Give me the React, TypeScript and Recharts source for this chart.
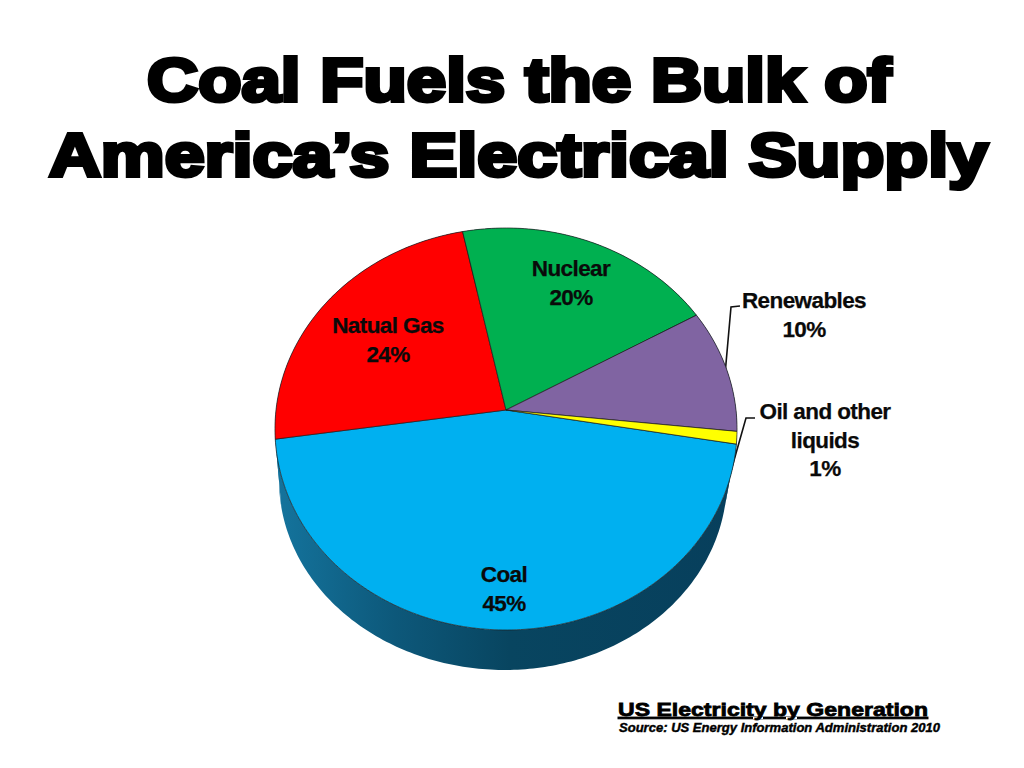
import React from 'react';
import { PieChart, Pie, Cell } from 'recharts';

const CATEGORIES = ['Coal', 'Natual Gas', 'Nuclear', 'Renewables', 'Oil and other liquids'];
const PERCENTS = [45, 24, 20, 10, 1];
const TOP_COLORS = ['#00B0F0', '#FF0000', '#00B050', '#8064A2', '#FFFF00'];

const LABEL_LINES = [['Coal'], ['Natual Gas'], ['Nuclear'], ['Renewables'], ['Oil and other', 'liquids']];
const LABEL_SPOTS = [
  { x: 504, y: 582 },
  { x: 388, y: 333 },
  { x: 571, y: 276 },
  { x: 804, y: 308 },
  { x: 825, y: 419 },
];

const chartData = CATEGORIES.map((name, i) => ({ name, value: PERCENTS[i] }));

// the pie is tilted, so the centre of the slices is not the centre of the ellipse
const VX = 506;
const VY = 410;
const RX = 230;
const RY = 199.2;
const TILT = -0.0945;
const START = -9.7;

const rad = (a: number) => (a * Math.PI) / 180;

const topPoint = (a: number) => {
  const x = Math.cos(rad(a));
  const y = -Math.sin(rad(a));
  const d = 1 + TILT * y;
  return [VX + (RX * x) / d, VY + (RY * y) / d];
};

const lowPoint = (a: number) => {
  const x = Math.cos(rad(a));
  const y = -Math.sin(rad(a));
  return [505 + (x > 0 ? 222 : 226) * x, 480 + 190 * y];
};

const sweep = (from: number, to: number, fn: (a: number) => number[]) => {
  const steps = Math.max(2, Math.ceil(Math.abs(to - from)));
  const pts: number[][] = [];
  for (let i = 0; i <= steps; i++) pts.push(fn(from + ((to - from) * i) / steps));
  return pts;
};

const toPath = (pts: number[][]) =>
  pts.map((p, i) => `${i ? 'L' : 'M'}${p[0].toFixed(2)},${p[1].toFixed(2)}`).join(' ') + ' Z';

const TopSlice = (props: any) => (
  <path
    d={toPath([[VX, VY], ...sweep(props.startAngle, props.endAngle, topPoint)])}
    fill={props.fill}
    stroke="#1c1c1c"
    strokeWidth={0.7}
    strokeLinejoin="round"
  />
);

const WallSlice = (props: any) => {
  const top = sweep(props.startAngle, props.endAngle, topPoint);
  const low = sweep(props.startAngle, props.endAngle, lowPoint).reverse();
  return <path d={toPath([...top, ...low])} fill="url(#wall)" stroke="none" />;
};

const renderLabel = (props: any) => {
  const i = props.index;
  const spot = LABEL_SPOTS[i];
  const lines = [...LABEL_LINES[i], `${PERCENTS[i]}%`];
  return (
    <text
      key={i}
      x={spot.x}
      y={spot.y}
      textAnchor="middle"
      fontFamily="Liberation Sans"
      fontWeight="bold"
      fontSize={22.5}
      letterSpacing={-0.6}
      fill="#0a0a0a"
      stroke="#0a0a0a"
      strokeWidth={0.25}
    >
      {lines.map((line, n) => (
        <tspan key={n} x={spot.x} dy={n ? 28.5 : 0}>
          {line}
        </tspan>
      ))}
    </text>
  );
};

const heavy = {
  fontFamily: 'Liberation Sans',
  fontWeight: 'bold' as const,
  fill: '#000',
  stroke: '#000',
  lengthAdjust: 'spacingAndGlyphs',
};

export default function App() {
  return (
    <div style={{ position: 'absolute', left: 0, top: 0, width: 1024, height: 768, background: '#fff' }}>
      <PieChart width={1024} height={768} margin={{ top: 0, right: 0, bottom: 0, left: 0 }}>
        <defs>
          <linearGradient id="wall" gradientUnits="userSpaceOnUse" x1="280" y1="0" x2="740" y2="0">
            <stop offset="0" stopColor="#14739c" />
            <stop offset="0.25" stopColor="#0d587a" />
            <stop offset="0.5" stopColor="#084560" />
            <stop offset="1" stopColor="#073f5c" />
          </linearGradient>
        </defs>

        <text x={519} y={101} textAnchor="middle" fontSize={62} strokeWidth={4} textLength={744} {...heavy}>
          Coal Fuels the Bulk of
        </text>
        <text x={518.5} y={176} textAnchor="middle" fontSize={62} strokeWidth={4} textLength={939} {...heavy}>
          America’s Electrical Supply
        </text>

        <Pie
          data={chartData}
          dataKey="value"
          cx={VX}
          cy={VY}
          outerRadius={RX}
          startAngle={START}
          endAngle={START - 360}
          stroke="none"
          shape={WallSlice}
          isAnimationActive={false}
        />
        <Pie
          data={chartData}
          dataKey="value"
          cx={VX}
          cy={VY}
          outerRadius={RX}
          startAngle={START}
          endAngle={START - 360}
          shape={TopSlice}
          label={renderLabel}
          labelLine={false}
          isAnimationActive={false}
        >
          {chartData.map((entry, i) => (
            <Cell key={entry.name} fill={TOP_COLORS[i]} />
          ))}
        </Pie>

        <polyline points="740,306 731,307 725.5,369" fill="none" stroke="#111" strokeWidth={1.6} />
        <polyline points="755,418 746,418 729,478" fill="none" stroke="#111" strokeWidth={1.6} />

        <text x={618} y={716} fontSize={19} strokeWidth={0.8} textLength={310} textDecoration="underline" {...heavy}>
          US Electricity by Generation
        </text>
        <text x={619} y={732} fontSize={12} fontStyle="italic" strokeWidth={0.4} textLength={321} {...heavy}>
          Source: US Energy Information Administration 2010
        </text>
      </PieChart>
    </div>
  );
}
